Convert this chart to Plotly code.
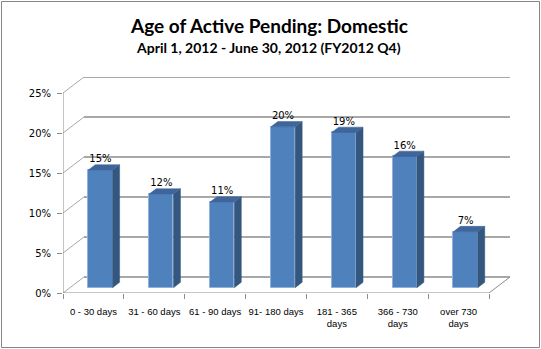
import plotly.graph_objects as go

# ---- data -------------------------------------------------------------
categories = ["0 - 30 days", "31 - 60 days", "61 - 90 days", "91- 180 days",
              "181 - 365<br>days", "366 - 730<br>days", "over 730<br>days"]
share_pct = [14.7, 11.7, 10.7, 20.1, 19.4, 16.4, 7.0]
y_ticks = [0, 5, 10, 15, 20, 25]

title = "Age of Active Pending: Domestic"
subtitle = "April 1, 2012 - June 30, 2012 (FY2012 Q4)"

# ---- geometry of the pseudo-3D box (in axis units) -----------------------
W, H = 541, 349
N = len(categories)
DEPTH_X = 0.345          # horizontal shift of the back wall, in category units
DEPTH_Y = 2.0            # vertical shift of the back wall, in percent units
Y_TOP = y_ticks[-1]
T_FRONT, T_BACK = 1 / 3, 2 / 3   # depth slice occupied by the columns
BAR_W = 0.4

M_L, M_R, M_T, M_B = 63, 31, 77, 56

GRID = "#a8a8a8"
AXIS = "#8c8c8c"
FRONT = "#4F81BD"
SIDE = "#34577F"
TOP = "#3F659A"
EDGE = "#8FB1DC"

fig = go.Figure()
shapes = []

# back wall gridlines and their left-wall diagonals
for v in y_ticks:
    shapes.append(dict(type="line", xref="x", yref="y", layer="below",
                       x0=0, y0=v, x1=DEPTH_X, y1=v + DEPTH_Y,
                       line=dict(color=GRID, width=1)))
    shapes.append(dict(type="line", xref="x", yref="y", layer="below",
                       x0=DEPTH_X, y0=v + DEPTH_Y, x1=N + DEPTH_X, y1=v + DEPTH_Y,
                       line=dict(color=GRID, width=2)))
# floor front edge, right floor edge, vertical value axis
shapes.append(dict(type="line", xref="x", yref="y", layer="below",
                   x0=0, y0=0, x1=N, y1=0, line=dict(color=AXIS, width=1)))
shapes.append(dict(type="line", xref="x", yref="y", layer="below",
                   x0=N, y0=0, x1=N + DEPTH_X, y1=DEPTH_Y, line=dict(color=AXIS, width=1)))
shapes.append(dict(type="line", xref="x", yref="y", layer="below",
                   x0=0, y0=0, x1=0, y1=Y_TOP, line=dict(color=AXIS, width=1)))

# chart border (paper coords from pixel edges)
pw, ph = W - M_L - M_R, H - M_T - M_B
def px_x(p):
    return (p - M_L) / pw
def px_y(p):
    return (H - M_B - p) / ph
shapes.append(dict(type="rect", xref="paper", yref="paper", layer="below",
                   x0=px_x(1.5), x1=px_x(539.5), y0=px_y(347.5), y1=px_y(1.5),
                   line=dict(color="#868686", width=1)))

# column front faces
centers = [i + 0.5 for i in range(N)]
fx = [c + T_FRONT * DEPTH_X for c in centers]
base = T_FRONT * DEPTH_Y
fig.add_trace(go.Bar(x=fx, y=share_pct, base=base, width=BAR_W,
                     marker=dict(color=FRONT, line=dict(color=EDGE, width=1)),
                     hoverinfo="skip", showlegend=False))

# column side and top faces
dx = (T_BACK - T_FRONT) * DEPTH_X
dy = (T_BACK - T_FRONT) * DEPTH_Y
side_x, side_y, top_x, top_y = [], [], [], []
for x, v in zip(fx, share_pct):
    xl, xr = x - BAR_W / 2, x + BAR_W / 2
    yt = base + v
    side_x += [xr, xr, xr + dx, xr + dx, xr, None]
    side_y += [base, yt, yt + dy, base + dy, base, None]
    top_x += [xl, xr, xr + dx, xl + dx, xl, None]
    top_y += [yt, yt, yt + dy, yt + dy, yt, None]
fig.add_trace(go.Scatter(x=side_x, y=side_y, fill="toself", fillcolor=SIDE,
                         mode="lines", line=dict(color=SIDE, width=0.5),
                         hoverinfo="skip", showlegend=False))
fig.add_trace(go.Scatter(x=top_x, y=top_y, fill="toself", fillcolor=TOP,
                         mode="lines", line=dict(color=TOP, width=0.5),
                         hoverinfo="skip", showlegend=False))

# value labels
fig.add_trace(go.Scatter(x=fx, y=[base + v + dy for v in share_pct],
                         mode="text", text=[f"{v:.0f}%" for v in share_pct],
                         textposition="top center",
                         textfont=dict(family="DejaVu Sans", size=10, color="#000000"),
                         hoverinfo="skip", showlegend=False))

annotations = [
    dict(text=f"<b>{title}</b>", xref="paper", yref="paper",
         x=px_x(269), y=px_y(25), xanchor="center", yanchor="middle",
         showarrow=False, font=dict(family="Lato", size=19, color="#000000")),
    dict(text=f"<b>{subtitle}</b>", xref="paper", yref="paper",
         x=px_x(268), y=px_y(47), xanchor="center", yanchor="middle",
         showarrow=False, font=dict(family="Lato", size=14, color="#000000")),
]

fig.update_layout(
    width=W, height=H,
    margin=dict(l=M_L, r=M_R, t=M_T, b=M_B, pad=0),
    paper_bgcolor="white", plot_bgcolor="white",
    shapes=shapes, annotations=annotations,
    bargap=0, showlegend=False,
    xaxis=dict(range=[0, N + DEPTH_X], tickmode="array", tickvals=centers,
               ticktext=categories, ticks="", showgrid=False, zeroline=False,
               showline=False, fixedrange=True, ticklabelstandoff=11,
               tickfont=dict(family="Liberation Sans", size=9.5, color="#000000"),
               minor=dict(tickmode="array", tickvals=list(range(N + 1)),
                          ticks="outside", ticklen=5, tickcolor=AXIS, tickwidth=1,
                          showgrid=False)),
    yaxis=dict(range=[0, Y_TOP + DEPTH_Y], tickmode="array", tickvals=y_ticks,
               ticktext=[f"{t}%" for t in y_ticks], ticks="outside", ticklen=5,
               tickcolor=AXIS, showgrid=False, zeroline=False, showline=False,
               fixedrange=True, ticklabelstandoff=4,
               tickfont=dict(family="DejaVu Sans", size=10, color="#000000")),
)

fig.write_html("out.html")
